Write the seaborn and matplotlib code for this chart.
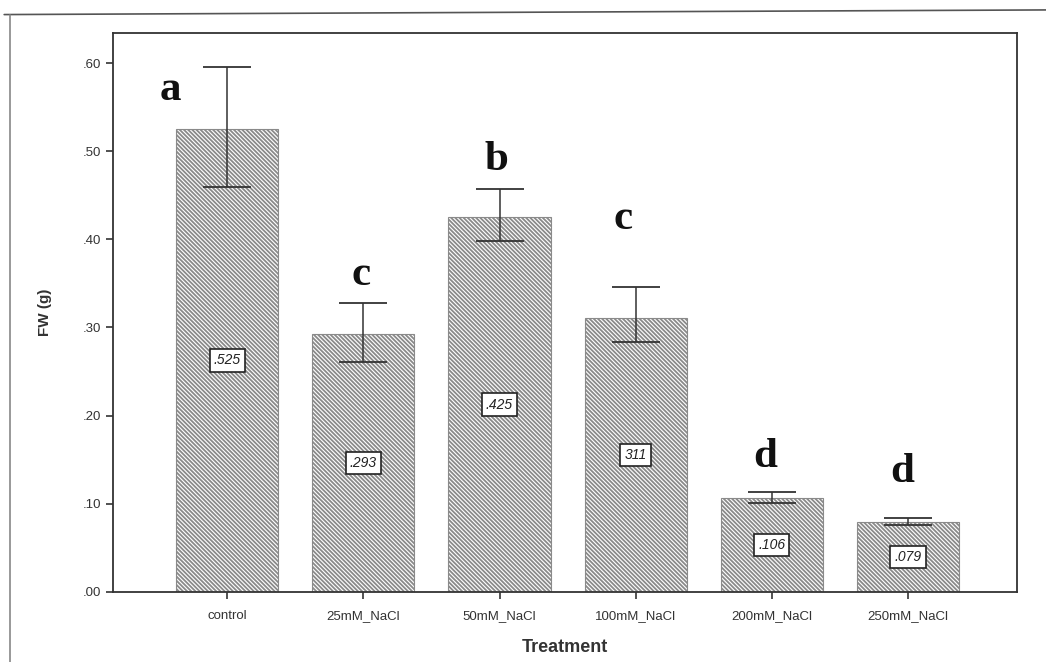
import matplotlib
matplotlib.use("Agg")
import matplotlib.pyplot as plt
import seaborn as sns
import numpy as np
import pandas as pd
from matplotlib.lines import Line2D

# data
treatments = ['control', '25mM_NaCl', '50mM_NaCl', '100mM_NaCl', '200mM_NaCl', '250mM_NaCl']
fw_mean = [0.525, 0.293, 0.425, 0.311, 0.106, 0.079]
err_low = [0.459, 0.261, 0.398, 0.284, 0.101, 0.076]
err_high = [0.595, 0.328, 0.457, 0.346, 0.113, 0.084]
value_labels = ['.525', '.293', '.425', '311', '.106', '.079']
letters = ['a', 'c', 'b', 'c', 'd', 'd']
letter_y = [0.57, 0.36, 0.49, 0.423, 0.153, 0.136]
letter_dx = [-0.42, -0.02, -0.02, -0.09, -0.05, -0.04]

df = pd.DataFrame({'Treatment': treatments, 'FW': fw_mean})

sns.set_style('white')
plt.rcParams['font.family'] = ['Liberation Sans', 'DejaVu Sans']
plt.rcParams['hatch.color'] = '#4a4a4a'
plt.rcParams['hatch.linewidth'] = 1.3

fig = plt.figure(figsize=(10.46, 6.62), dpi=100)
ax = fig.add_axes([0.108, 0.106, 0.864, 0.844])

sns.barplot(data=df, x='Treatment', y='FW', ax=ax, color='white',
            edgecolor='#8a8a8a', linewidth=0.8, width=0.75, errorbar=None)
for p in ax.patches:
    p.set_hatch('\\' * 8)
    if hasattr(p, 'set_hatchcolor'):
        p.set_hatchcolor('#4a4a4a')

xs = np.arange(len(treatments))
ax.errorbar(xs, fw_mean,
            yerr=[np.array(fw_mean) - np.array(err_low), np.array(err_high) - np.array(fw_mean)],
            fmt='none', ecolor='#333333', elinewidth=1.1, capsize=17, capthick=1.3, zorder=5)

for i, v in enumerate(fw_mean):
    ax.text(xs[i], v / 2, value_labels[i], ha='center', va='center', fontsize=10,
            style='italic', color='#222222', zorder=6,
            bbox=dict(boxstyle='square,pad=0.3', facecolor='white', edgecolor='#222222', linewidth=1.2))
    ax.text(xs[i] + letter_dx[i], letter_y[i], letters[i], ha='center', va='center',
            fontsize=31, fontweight='heavy', family='Liberation Serif', color='#111111')

ax.set_xlim(-0.84, 5.8)
ax.set_ylim(0, 0.634)
ax.set_yticks([0, 0.1, 0.2, 0.3, 0.4, 0.5, 0.6])
ax.set_yticklabels(['.00', '.10', '.20', '.30', '.40', '.50', '.60'], fontsize=9.5)
ax.set_xticks(xs)
ax.set_xticklabels(treatments, fontsize=9.5)
ax.tick_params(axis='both', direction='out', length=5, width=1.2, color='#333333',
               labelcolor='#333333', left=True, bottom=True)
ax.tick_params(axis='x', pad=8)
ax.set_xlabel('Treatment', fontsize=13, fontweight='bold', color='#333333', labelpad=12)
ax.set_ylabel('FW (g)', fontsize=11, fontweight='bold', color='#333333', labelpad=22)
for s in ax.spines.values():
    s.set_visible(True)
    s.set_color('#333333')
    s.set_linewidth(1.3)

# scanned outer frame
fig.add_artist(Line2D([0.004, 1.0], [0.978, 0.985], transform=fig.transFigure,
                      color='#555555', linewidth=1.2))
fig.add_artist(Line2D([0.0095, 0.0095], [0.0, 0.978], transform=fig.transFigure,
                      color='#888888', linewidth=1.2))

fig.savefig('out.png', dpi=100)
